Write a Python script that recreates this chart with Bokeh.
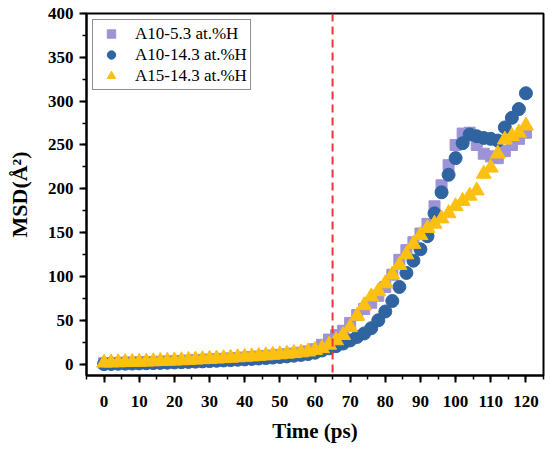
from bokeh.plotting import figure
from bokeh.models import Span, Range1d, SingleIntervalTicker
from bokeh.embed import file_html
from bokeh.resources import INLINE

# Time (ps)
time_ps = [0, 2, 4, 6, 8, 10, 12, 14, 16, 18, 20, 22, 24, 26, 28, 30, 32, 34, 36, 38,
           40, 42, 44, 46, 48, 50, 52, 54, 56, 58, 60, 62, 64, 66, 68, 70, 72, 74, 76, 78,
           80, 82, 84, 86, 88, 90, 92, 94, 96, 98, 100, 102, 104, 106, 108, 110, 112, 114,
           116, 118, 120]

# A10-5.3 at.%H (squares)
msd_a10_53 = [1.0, 1.2, 1.4, 1.6, 1.8, 2.0, 2.2, 2.4, 2.7, 3.0, 3.3, 3.6, 4.0, 4.4, 4.8,
              5.2, 5.6, 6.0, 6.5, 7.0, 7.5, 8.0, 8.6, 9.2, 9.8, 10.5, 11.2, 12.0, 13.0, 14.5,
              17.0, 22.0, 28.0, 33.0, 38.0, 47.0, 56.0, 63.0, 70.0, 78.0, 88.0, 102.0, 119.0,
              130.0, 139.0, 149.0, 160.0, 180.0, 204.0, 227.0, 250.0, 263.0, 264.0, 250.0,
              240.0, 237.0, 235.0, 243.0, 250.0, 257.0, 264.0]

# A10-14.3 at.%H (circles)
msd_a10_143 = [0.0, 0.2, 0.4, 0.5, 0.6, 0.8, 1.0, 1.2, 1.4, 1.6, 1.9, 2.2, 2.5, 2.8, 3.1,
               3.4, 3.8, 4.2, 4.6, 5.0, 5.4, 5.9, 6.4, 6.9, 7.5, 8.1, 8.8, 9.6, 10.5, 11.5,
               13.0, 15.5, 18.0, 20.5, 23.5, 27.0, 31.0, 35.0, 41.0, 50.0, 60.0, 72.0, 88.0,
               104.0, 118.0, 131.0, 146.0, 172.0, 196.0, 216.0, 235.0, 252.0, 262.0, 260.0,
               258.0, 257.0, 255.0, 270.0, 281.0, 291.0, 309.0]

# A15-14.3 at.%H (triangles)
msd_a15_143 = [1.5, 1.7, 1.9, 2.1, 2.3, 2.5, 2.7, 3.0, 3.3, 3.6, 3.9, 4.2, 4.6, 5.0, 5.4,
               5.8, 6.2, 6.6, 7.1, 7.6, 8.1, 8.6, 9.2, 9.8, 10.4, 11.0, 11.7, 12.4, 13.2, 14.2,
               16.0, 18.0, 22.0, 27.0, 33.0, 42.0, 55.0, 67.0, 77.0, 83.0, 92.0, 102.0, 113.0,
               125.0, 137.0, 147.0, 155.0, 160.0, 166.0, 172.0, 180.0, 186.0, 192.0, 198.0,
               217.0, 224.0, 240.0, 256.0, 260.0, 264.0, 272.0]

series_labels = ["A10-5.3 at.%H", "A10-14.3 at.%H", "A15-14.3 at.%H"]
marker_line_x = 65

FONT = "Liberation Serif"

p = figure(width=550, height=453, x_range=Range1d(-5, 125), y_range=Range1d(-13, 400),
           output_backend="svg", toolbar_location=None,
           min_border_left=86, min_border_right=7, min_border_top=13, min_border_bottom=78)

p.xgrid.visible = False
p.ygrid.visible = False
p.outline_line_color = "black"
p.outline_line_width = 2
p.outline_line_alpha = 1.0

p.xaxis.ticker = SingleIntervalTicker(interval=10, num_minor_ticks=2)
p.yaxis.ticker = SingleIntervalTicker(interval=50, num_minor_ticks=2)

for ax in (p.xaxis[0], p.yaxis[0]):
    ax.axis_line_width = 2
    ax.axis_line_color = "black"
    ax.major_tick_line_width = 2
    ax.major_tick_line_color = "black"
    ax.major_tick_out = 7
    ax.major_tick_in = 0
    ax.minor_tick_out = 4
    ax.minor_tick_in = 0
    ax.minor_tick_line_width = 1.5
    ax.minor_tick_line_color = "black"
    ax.major_label_text_font = FONT
    ax.major_label_text_font_style = "bold"
    ax.major_label_text_font_size = "17px"
    ax.major_label_text_color = "black"
    ax.axis_label_text_font = FONT
    ax.axis_label_text_font_style = "bold"
    ax.axis_label_text_color = "black"

p.xaxis.axis_label = "Time (ps)"
p.yaxis.axis_label = "MSD(\u00c5\u00b2)"
p.xaxis.axis_label_text_font_size = "21px"
p.yaxis.axis_label_text_font_size = "22px"
p.xaxis.major_label_standoff = 13
p.xaxis.axis_label_standoff = 9
p.yaxis.major_label_standoff = 6
p.yaxis.axis_label_standoff = 13

p.scatter(time_ps, msd_a10_53, marker="square", size=11, color="#9d93d6",
          legend_label=series_labels[0])
p.scatter(time_ps, msd_a10_143, marker="circle", size=13, color="#2f64a0",
          legend_label=series_labels[1])
p.scatter(time_ps, msd_a15_143, marker="triangle", size=15, color="#fcc010",
          legend_label=series_labels[2])

p.add_layout(Span(location=marker_line_x, dimension="height", line_color="#f0343c",
                  line_width=2, line_dash="8 5"))

lg = p.legend[0]
lg.location = "top_left"
lg.margin = 6
lg.padding = 3
lg.spacing = 0
lg.glyph_width = 30
lg.glyph_height = 21
lg.label_height = 21
lg.label_standoff = 9
lg.label_text_font = FONT
lg.label_text_font_size = "17px"
lg.label_text_color = "black"
lg.border_line_color = "#222222"
lg.border_line_width = 1
lg.background_fill_alpha = 1.0

open("out.html", "w").write(file_html(p, INLINE))
